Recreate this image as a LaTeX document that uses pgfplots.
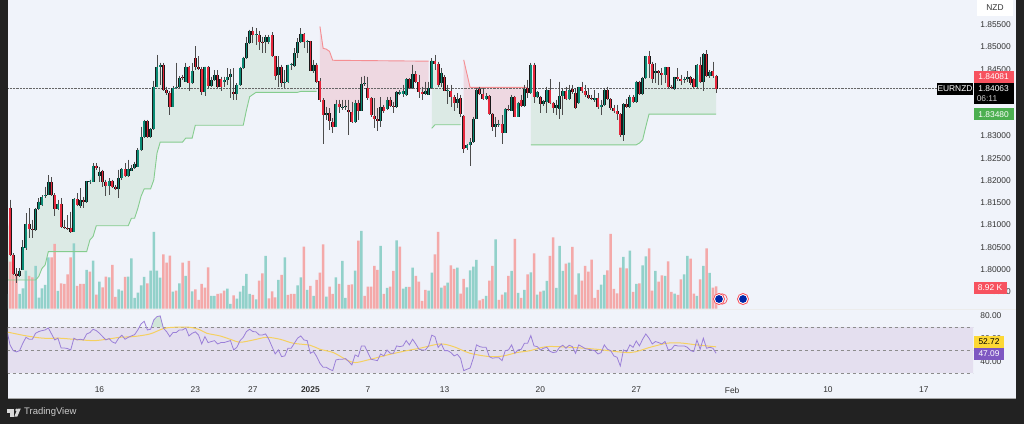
\documentclass[border=0pt]{standalone}
\usepackage{fontspec}
\setmainfont{Liberation Sans}
\usepackage{pgfplots}
\usepackage{pgfplotstable}
\pgfplotsset{compat=1.18}
\usepgfplotslibrary{fillbetween}
\pgfdeclarelayer{pre main}
\pgfsetlayers{pre main,main}
\definecolor{panel}{HTML}{F0F3FA}
\definecolor{dark}{HTML}{222222}
\definecolor{cup}{HTML}{0B8A74}
\definecolor{cdn}{HTML}{E5283C}
\definecolor{vup}{HTML}{92D1CA}
\definecolor{vdn}{HTML}{F4A9A9}
\definecolor{stg}{HTML}{85CC8E}
\definecolor{str}{HTML}{F58E92}
\definecolor{tagr}{HTML}{F7525F}
\definecolor{tagg}{HTML}{4CAF50}
\definecolor{tagy}{HTML}{FDD835}
\definecolor{tagp}{HTML}{7E57C2}
\definecolor{rsiband}{HTML}{E4DFEF}
\definecolor{rsil}{HTML}{9B80D8}
\definecolor{rsim}{HTML}{F5D060}
\definecolor{ticktxt}{HTML}{333333}
\pgfplotstableread{
x o h l c
-1 1.8092 1.8156 1.8091 1.8139
0 1.8139 1.8156 1.8029 1.8032
1 1.8032 1.8036 1.7987 1.7990
2 1.7990 1.8002 1.7970 1.7984
3 1.7985 1.8002 1.7982 1.7997
4 1.7999 1.8066 1.7999 1.8050
5 1.8049 1.8126 1.8044 1.8102
6 1.8102 1.8137 1.8070 1.8090
7 1.8090 1.8111 1.8070 1.8089
8 1.8089 1.8137 1.8087 1.8136
9 1.8135 1.8160 1.8134 1.8152
10 1.8145 1.8167 1.8143 1.8162
11 1.8164 1.8186 1.8161 1.8167
12 1.8167 1.8212 1.8167 1.8196
13 1.8196 1.8207 1.8166 1.8167
14 1.8167 1.8171 1.8119 1.8136
15 1.8136 1.8156 1.8134 1.8147
16 1.8147 1.8160 1.8092 1.8095
17 1.8095 1.8111 1.8090 1.8092
18 1.8092 1.8122 1.8089 1.8090
19 1.8092 1.8130 1.8081 1.8085
20 1.8085 1.8160 1.8083 1.8158
21 1.8158 1.8171 1.8143 1.8145
22 1.8143 1.8182 1.8139 1.8156
23 1.8156 1.8163 1.8137 1.8151
24 1.8151 1.8199 1.8150 1.8198
25 1.8198 1.8202 1.8193 1.8199
26 1.8197 1.8239 1.8196 1.8233
27 1.8233 1.8239 1.8224 1.8227
28 1.8211 1.8231 1.8197 1.8219
29 1.8220 1.8224 1.8186 1.8197
30 1.8197 1.8202 1.8164 1.8188
31 1.8188 1.8205 1.8167 1.8199
32 1.8199 1.8202 1.8182 1.8186
33 1.8186 1.8190 1.8179 1.8180
34 1.8180 1.8224 1.8160 1.8205
35 1.8205 1.8227 1.8202 1.8225
36 1.8225 1.8239 1.8207 1.8209
37 1.8209 1.8246 1.8207 1.8225
38 1.8222 1.8235 1.8220 1.8227
39 1.8227 1.8242 1.8226 1.8237
40 1.8231 1.8272 1.8229 1.8269
41 1.8269 1.8321 1.8267 1.8297
42 1.8297 1.8336 1.8295 1.8333
43 1.8333 1.8336 1.8295 1.8297
44 1.8297 1.8317 1.8295 1.8315
45 1.8315 1.8424 1.8313 1.8411
46 1.8411 1.8482 1.8410 1.8455
47 1.8455 1.8465 1.8415 1.8460
48 1.8460 1.8464 1.8402 1.8404
49 1.8404 1.8411 1.8392 1.8396
50 1.8396 1.8400 1.8347 1.8365
51 1.8366 1.8412 1.8365 1.8407
52 1.8407 1.8464 1.8406 1.8411
53 1.8411 1.8435 1.8407 1.8430
54 1.8432 1.8437 1.8426 1.8430
55 1.8422 1.8464 1.8421 1.8456
56 1.8456 1.8457 1.8400 1.8419
57 1.8419 1.8464 1.8417 1.8445
58 1.8475 1.8501 1.8449 1.8454
59 1.8454 1.8479 1.8449 1.8450
60 1.8450 1.8456 1.8392 1.8398
61 1.8398 1.8456 1.8390 1.8455
62 1.8455 1.8457 1.8407 1.8412
63 1.8412 1.8433 1.8411 1.8426
64 1.8426 1.8448 1.8424 1.8437
65 1.8437 1.8448 1.8407 1.8411
66 1.8427 1.8433 1.8400 1.8411
67 1.8422 1.8433 1.8411 1.8426
68 1.8426 1.8452 1.8415 1.8432
69 1.8432 1.8450 1.8385 1.8440
70 1.8398 1.8452 1.8381 1.8394
71 1.8394 1.8418 1.8381 1.8415
72 1.8415 1.8456 1.8413 1.8452
73 1.8452 1.8478 1.8451 1.8475
74 1.8475 1.8523 1.8473 1.8509
75 1.8509 1.8539 1.8507 1.8535
76 1.8535 1.8545 1.8509 1.8527
77 1.8526 1.8542 1.8505 1.8529
78 1.8527 1.8535 1.8494 1.8512
79 1.8512 1.8523 1.8486 1.8511
80 1.8511 1.8527 1.8486 1.8522
81 1.8511 1.8527 1.8507 1.8522
82 1.8526 1.8533 1.8477 1.8479
83 1.8479 1.8480 1.8426 1.8434
84 1.8437 1.8479 1.8411 1.8456
85 1.8456 1.8460 1.8411 1.8419
86 1.8419 1.8448 1.8407 1.8421
87 1.8421 1.8460 1.8419 1.8460
88 1.8460 1.8464 1.8448 1.8461
89 1.8457 1.8497 1.8456 1.8486
90 1.8486 1.8520 1.8475 1.8510
91 1.8510 1.8542 1.8508 1.8530
92 1.8530 1.8531 1.8497 1.8510
93 1.8510 1.8516 1.8486 1.8513
94 1.8513 1.8514 1.8445 1.8447
95 1.8447 1.8471 1.8441 1.8460
96 1.8460 1.8464 1.8420 1.8422
97 1.8424 1.8430 1.8377 1.8381
98 1.8381 1.8385 1.8281 1.8346
99 1.8346 1.8365 1.8336 1.8351
100 1.8351 1.8362 1.8313 1.8334
101 1.8332 1.8340 1.8306 1.8321
102 1.8321 1.8381 1.8319 1.8372
103 1.8372 1.8381 1.8352 1.8365
104 1.8365 1.8381 1.8358 1.8366
105 1.8366 1.8381 1.8358 1.8368
106 1.8358 1.8381 1.8302 1.8353
107 1.8353 1.8377 1.8328 1.8331
108 1.8331 1.8381 1.8328 1.8374
109 1.8374 1.8381 1.8336 1.8357
110 1.8357 1.8433 1.8357 1.8416
111 1.8416 1.8435 1.8412 1.8418
112 1.8407 1.8433 1.8381 1.8385
113 1.8385 1.8387 1.8343 1.8346
114 1.8345 1.8385 1.8317 1.8339
115 1.8339 1.8362 1.8311 1.8334
116 1.8334 1.8387 1.8321 1.8365
117 1.8365 1.8370 1.8351 1.8357
118 1.8360 1.8388 1.8358 1.8381
119 1.8381 1.8388 1.8365 1.8368
120 1.8368 1.8377 1.8351 1.8364
121 1.8364 1.8400 1.8362 1.8398
122 1.8394 1.8403 1.8392 1.8398
123 1.8394 1.8415 1.8388 1.8400
124 1.8391 1.8430 1.8390 1.8427
125 1.8427 1.8430 1.8405 1.8407
126 1.8407 1.8460 1.8406 1.8439
127 1.8439 1.8445 1.8418 1.8421
128 1.8421 1.8437 1.8385 1.8398
129 1.8398 1.8411 1.8381 1.8394
130 1.8394 1.8422 1.8392 1.8402
131 1.8392 1.8422 1.8391 1.8407
132 1.8407 1.8475 1.8405 1.8469
133 1.8469 1.8482 1.8448 1.8461
134 1.8461 1.8467 1.8411 1.8415
135 1.8418 1.8452 1.8411 1.8442
136 1.8432 1.8437 1.8400 1.8401
137 1.8401 1.8415 1.8372 1.8403
138 1.8402 1.8415 1.8365 1.8387
139 1.8387 1.8392 1.8357 1.8374
140 1.8374 1.8396 1.8362 1.8383
141 1.8385 1.8392 1.8343 1.8350
142 1.8345 1.8347 1.8262 1.8271
143 1.8272 1.8282 1.8269 1.8280
144 1.8280 1.8295 1.8232 1.8286
145 1.8286 1.8343 1.8284 1.8339
146 1.8339 1.8407 1.8337 1.8404
147 1.8406 1.8411 1.8392 1.8394
148 1.8394 1.8407 1.8381 1.8384
149 1.8384 1.8396 1.8381 1.8390
150 1.8390 1.8392 1.8347 1.8350
151 1.8350 1.8351 1.8310 1.8321
152 1.8321 1.8343 1.8298 1.8327
153 1.8326 1.8336 1.8321 1.8327
154 1.8327 1.8347 1.8281 1.8307
155 1.8307 1.8362 1.8306 1.8360
156 1.8360 1.8370 1.8355 1.8358
157 1.8357 1.8392 1.8355 1.8388
158 1.8388 1.8390 1.8342 1.8343
159 1.8343 1.8377 1.8342 1.8374
160 1.8381 1.8392 1.8364 1.8368
161 1.8368 1.8415 1.8366 1.8406
162 1.8407 1.8426 1.8385 1.8396
163 1.8396 1.8464 1.8394 1.8460
164 1.8460 1.8464 1.8373 1.8387
165 1.8387 1.8400 1.8385 1.8398
166 1.8387 1.8390 1.8351 1.8371
167 1.8371 1.8381 1.8367 1.8379
168 1.8377 1.8411 1.8351 1.8404
169 1.8404 1.8427 1.8372 1.8374
170 1.8374 1.8377 1.8351 1.8362
171 1.8362 1.8381 1.8347 1.8370
172 1.8360 1.8422 1.8337 1.8390
173 1.8390 1.8407 1.8347 1.8401
174 1.8401 1.8411 1.8381 1.8383
175 1.8383 1.8415 1.8381 1.8404
176 1.8406 1.8415 1.8394 1.8398
177 1.8396 1.8407 1.8360 1.8362
178 1.8373 1.8411 1.8372 1.8409
179 1.8409 1.8422 1.8397 1.8400
180 1.8400 1.8415 1.8388 1.8391
181 1.8391 1.8407 1.8382 1.8385
182 1.8385 1.8392 1.8381 1.8382
183 1.8381 1.8403 1.8377 1.8385
184 1.8385 1.8396 1.8360 1.8365
185 1.8365 1.8381 1.8347 1.8370
186 1.8370 1.8407 1.8367 1.8404
187 1.8404 1.8411 1.8381 1.8382
188 1.8382 1.8385 1.8358 1.8362
189 1.8362 1.8370 1.8351 1.8355
190 1.8355 1.8370 1.8336 1.8349
191 1.8349 1.8351 1.8297 1.8302
192 1.8302 1.8373 1.8289 1.8371
193 1.8371 1.8383 1.8362 1.8365
194 1.8365 1.8392 1.8362 1.8388
195 1.8388 1.8392 1.8375 1.8377
196 1.8377 1.8424 1.8375 1.8422
197 1.8422 1.8424 1.8392 1.8394
198 1.8394 1.8433 1.8393 1.8430
199 1.8430 1.8480 1.8428 1.8479
200 1.8479 1.8491 1.8430 1.8462
201 1.8462 1.8467 1.8418 1.8428
202 1.8441 1.8463 1.8418 1.8447
203 1.8447 1.8448 1.8415 1.8441
204 1.8441 1.8452 1.8415 1.8437
205 1.8437 1.8456 1.8418 1.8454
206 1.8454 1.8455 1.8407 1.8411
207 1.8411 1.8415 1.8405 1.8409
208 1.8406 1.8433 1.8403 1.8432
209 1.8432 1.8452 1.8424 1.8427
210 1.8427 1.8437 1.8415 1.8424
211 1.8426 1.8433 1.8418 1.8428
212 1.8427 1.8445 1.8422 1.8432
213 1.8432 1.8435 1.8415 1.8418
214 1.8427 1.8430 1.8407 1.8409
215 1.8409 1.8461 1.8407 1.8460
216 1.8460 1.8478 1.8418 1.8421
217 1.8421 1.8486 1.8400 1.8484
218 1.8484 1.8493 1.8432 1.8434
219 1.8434 1.8448 1.8430 1.8443
220 1.8446 1.8467 1.8430 1.8435
221 1.8435 1.8437 1.8397 1.8406
}\candles
\pgfplotstableread{
x v d
-1 5.9 1
0 18.8 0
1 21.5 0
2 14.1 0
3 5.9 1
4 8.1 1
5 15.2 1
6 13.1 0
7 12.5 0
8 17.1 1
9 4.4 1
10 8.1 1
11 9.5 1
12 20.5 1
13 20.5 0
14 25.9 0
15 7.1 1
16 10.1 0
17 9.9 0
18 13.7 0
19 20.5 0
20 26.1 1
21 9.1 0
22 9.9 0
23 9.9 0
24 15.5 1
25 14.8 0
26 19.2 1
27 5.6 0
28 10.8 1
29 8.5 0
30 12.8 0
31 12.5 1
32 17.5 0
33 4.7 0
34 7.7 1
35 7.2 1
36 12.7 0
37 12.8 1
38 20.1 1
39 4.3 1
40 6.4 1
41 9.3 1
42 12.7 1
43 10.1 0
44 15.2 1
45 30.7 1
46 15.2 1
47 12.4 1
48 21.7 0
49 18.4 0
50 21.2 0
51 6.8 1
52 7.2 0
53 10.1 1
54 18.4 0
55 13.1 1
56 19.1 0
57 6.9 1
58 7.7 0
59 3.5 0
60 9.9 0
61 8.4 0
62 16.5 0
63 5.1 1
64 5.1 1
65 5.9 0
66 6.1 0
67 7.2 0
68 8.0 1
69 1.9 1
70 5.3 0
71 4.0 1
72 6.8 1
73 9.1 1
74 13.9 1
75 5.9 1
76 5.5 0
77 3.7 1
78 11.2 0
79 14.1 0
80 21.1 1
81 4.1 0
82 6.9 0
83 4.5 0
84 11.5 1
85 13.5 0
86 20.5 1
87 5.5 0
88 5.9 0
89 5.9 0
90 9.3 1
91 12.5 1
92 24.8 0
93 7.5 1
94 9.1 0
95 5.1 1
96 11.5 0
97 14.4 0
98 25.7 0
99 4.8 1
100 8.8 0
101 5.9 0
102 12.5 1
103 9.9 0
104 19.1 1
105 4.3 1
106 9.5 0
107 9.7 0
108 15.2 1
109 27.2 0
110 31.1 1
111 5.1 0
112 8.8 0
113 8.8 0
114 17.1 0
115 15.5 0
116 25.1 1
117 5.9 0
118 8.3 1
119 8.8 0
120 15.1 0
121 27.3 1
122 24.8 0
123 8.0 1
124 8.7 1
125 8.7 0
126 16.4 1
127 13.1 0
128 10.8 0
129 3.1 0
130 7.5 0
131 7.2 1
132 14.4 1
133 21.7 0
134 30.7 0
135 8.4 1
136 9.2 0
137 10.4 1
138 17.3 0
139 15.9 0
140 16.4 1
141 6.0 0
142 11.9 0
143 8.5 1
144 15.3 1
145 16.8 1
146 19.5 1
147 3.3 0
148 3.9 0
149 5.1 1
150 11.2 0
151 17.1 0
152 27.7 1
153 3.5 0
154 5.6 0
155 6.5 1
156 13.1 0
157 15.1 1
158 27.9 0
159 6.3 1
160 4.3 0
161 7.5 1
162 13.7 0
163 14.5 1
164 22.1 0
165 5.6 1
166 6.8 0
167 7.2 1
168 11.1 1
169 21.1 0
170 28.5 0
171 8.3 1
172 25.1 1
173 15.1 1
174 18.0 0
175 18.4 1
176 24.7 0
177 5.6 0
178 14.1 1
179 11.2 0
180 17.1 0
181 14.8 0
182 19.6 0
183 4.3 0
184 7.5 0
185 9.6 1
186 13.5 1
187 15.3 0
188 29.9 0
189 7.9 0
190 6.1 0
191 16.4 0
192 20.7 1
193 16.1 0
194 23.2 1
195 6.7 0
196 9.9 1
197 10.1 0
198 17.3 1
199 20.9 1
200 24.1 0
201 7.2 0
202 15.1 1
203 10.8 0
204 13.3 0
205 13.1 1
206 18.9 0
207 6.7 0
208 6.0 1
209 5.5 0
210 11.7 0
211 13.7 1
212 21.1 1
213 20.0 0
214 6.0 0
215 5.1 1
216 11.7 0
217 17.1 1
218 24.1 0
219 14.3 1
220 8.4 0
221 8.92 0
}\volume
\pgfplotstableread{
x v
-1 67.4
0 54.4
1 49.4
2 48.3
3 49.4
4 55.8
5 61.0
6 59.3
7 59.3
8 64.5
9 66.0
10 66.8
11 67.4
12 69.1
13 63.9
14 58.7
15 60.2
16 51.7
17 51.7
18 51.2
19 50.0
20 60.2
21 58.7
22 59.3
23 58.7
24 63.9
25 65.1
26 68.0
27 66.8
28 64.5
29 61.6
30 58.7
31 59.9
32 57.0
33 55.8
34 60.2
35 62.8
36 59.3
37 61.0
38 62.2
39 63.3
40 67.4
41 72.6
42 74.9
43 67.4
44 68.0
45 76.1
46 79.0
47 79.6
48 68.9
49 66.0
50 61.6
51 65.1
52 65.1
53 67.4
54 67.4
55 69.1
56 62.2
57 64.5
58 65.7
59 63.0
60 55.2
61 61.6
62 56.4
63 57.3
64 58.1
65 55.2
66 56.4
67 56.4
68 57.3
69 58.1
70 50.0
71 52.3
72 58.1
73 61.0
74 66.0
75 68.0
76 66.0
77 65.7
78 63.0
79 63.0
80 63.9
81 59.3
82 52.9
83 46.5
84 50.0
85 44.2
86 44.8
87 51.5
88 51.5
89 55.8
90 60.2
91 62.2
92 58.7
93 58.1
94 47.1
95 48.6
96 44.2
97 38.4
98 34.9
99 34.9
100 33.2
101 32.0
102 41.3
103 41.9
104 41.9
105 42.5
106 39.9
107 37.0
108 45.7
109 44.2
110 53.5
111 53.5
112 47.7
113 41.9
114 41.3
115 40.7
116 46.5
117 44.8
118 50.0
119 47.1
120 47.1
121 53.5
122 52.9
123 53.5
124 58.1
125 54.4
126 59.3
127 55.2
128 50.6
129 50.0
130 50.0
131 53.5
132 62.8
133 61.6
134 52.3
135 55.2
136 49.4
137 49.4
138 47.7
139 44.8
140 46.2
141 42.8
142 32.0
143 33.2
144 34.3
145 42.8
146 54.4
147 52.9
148 52.3
149 52.3
150 44.2
151 42.8
152 43.3
153 43.3
154 40.7
155 49.4
156 50.0
157 54.4
158 47.1
159 50.0
160 50.6
161 55.8
162 55.8
163 62.5
164 53.5
165 52.9
166 50.0
167 51.5
168 52.3
169 48.8
170 47.7
171 48.3
172 52.3
173 54.1
174 51.5
175 54.1
176 52.9
177 47.1
178 54.4
179 52.9
180 51.2
181 50.6
182 50.0
183 49.4
184 46.5
185 47.7
186 54.4
187 50.6
188 49.4
189 44.8
190 43.6
191 36.1
192 50.0
193 48.6
194 54.4
195 52.3
196 57.8
197 53.5
198 59.3
199 63.9
200 60.2
201 55.2
202 57.3
203 56.4
204 55.2
205 57.3
206 50.0
207 50.6
208 54.1
209 53.5
210 53.5
211 53.5
212 52.3
213 49.4
214 48.6
215 58.7
216 50.6
217 60.2
218 51.5
219 52.3
220 51.5
221 47.09
}\rsi
\pgfplotsset{
  chartaxis/.style={
    scale only axis, anchor=south west, width=965pt,
    xmin=-0.63, xmax=301.4,
    axis line style={draw=none}, tick style={draw=none},
    major tick length=0pt, clip=true,
    tick label style={font=\fontsize{8.4}{9}\selectfont, text=ticktxt},
  },
  cdl/.style={only marks, mark size=0pt, mark options={draw=none,fill=none}},
}
\newcommand\tagbox[7]{%
  \fill[#5] ({#1pt},{(424-#2)*1pt}) rectangle ({#3pt},{(424-#4)*1pt});
  \node[text=#6,font=\fontsize{8.4}{9}\selectfont,inner sep=0pt,anchor=center] at ({(#1+#3)/2*1pt},{(424-(#2+#4)/2)*1pt}) {#7};}
\newcommand\eventicon[1]{%
  \fill[white] ({#1pt},125pt) circle (5.8pt);
  \draw[tagr,line width=0.9pt] ({#1pt},125pt) circle (5.5pt);
  \fill[white] ({#1pt},125pt) circle (4.6pt);
  \fill[blue!60!black!85!cyan] ({#1pt},125pt) circle (3.9pt);
}
\begin{document}
\begin{tikzpicture}
\begin{pgfonlayer}{pre main}
\fill[dark] (0pt,0pt) rectangle (1024pt,424pt);
\fill[panel] (8pt,26pt) rectangle (1016pt,424pt);
\draw[gray!70,line width=0.8pt] (8pt,26pt) -- (1016pt,26pt);
\draw[gray!15,line width=0.6pt] (8pt,115pt) -- (1016pt,115pt);
\end{pgfonlayer}
% volume pane
\begin{axis}[chartaxis, at={(8pt,115.3pt)}, height=100pt, ymin=0, ymax=40, xtick=\empty, ytick=\empty, hide axis]
\addplot[ybar, bar width=2.5pt, bar shift=0pt, fill=vup, draw=none, restrict expr to domain={\thisrow{d}}{0.5:1.5}] table[x=x,y=v] {\volume};
\addplot[ybar, bar width=2.5pt, bar shift=0pt, fill=vdn, draw=none, restrict expr to domain={\thisrow{d}}{-0.5:0.5}] table[x=x,y=v] {\volume};
\end{axis}
% price pane
\begin{axis}[chartaxis, at={(8pt,115pt)}, height=309pt,
  ymin=1.79109, ymax=1.86055, xtick=\empty,
  ytick={1.795,1.80,1.805,1.81,1.815,1.82,1.825,1.83,1.835,1.84,1.845,1.85,1.855},
  yticklabel pos=right, scaled y ticks=false,
  yticklabel style={xshift=3.8pt, /pgf/number format/.cd, fixed, fixed zerofill, precision=5, assume math mode=true}]
\addplot[draw=none, name path=m1, restrict x to domain=-1:96] table[x=x,y expr=(\thisrow{o}+\thisrow{c})/2] {\candles};
\addplot[draw=none, name path=m2, restrict x to domain=97:131] table[x=x,y expr=(\thisrow{o}+\thisrow{c})/2] {\candles};
\addplot[draw=none, name path=m3, restrict x to domain=132:141] table[x=x,y expr=(\thisrow{o}+\thisrow{c})/2] {\candles};
\addplot[draw=none, name path=m4, restrict x to domain=142:162] table[x=x,y expr=(\thisrow{o}+\thisrow{c})/2] {\candles};
\addplot[draw=none, name path=m5, restrict x to domain=163:221] table[x=x,y expr=(\thisrow{o}+\thisrow{c})/2] {\candles};
\addplot[stg, line width=0.9pt, name path=g1] coordinates {(-1,1.7976)(8,1.7976)(9,1.7984)(10,1.8002)(11,1.8010)(12,1.8040)(24,1.8040)(25,1.8066)(26,1.8074)(27,1.8098)(37,1.8098)(38,1.8115)(39,1.8115)(40,1.8137)(41,1.8164)(42,1.8181)(44,1.8181)(45,1.8201)(46,1.8261)(47,1.8286)(54,1.8286)(55,1.8295)(57,1.8295)(58,1.8324)(73,1.8324)(74,1.8358)(75,1.8388)(77,1.8398)(90,1.8398)(91,1.8400)(96,1.8400)};
\addplot[str, line width=0.9pt, name path=r1] coordinates {(97,1.8546)(98,1.8497)(99,1.8495)(100,1.8490)(101,1.8470)(131,1.8468)};
\addplot[stg, line width=0.9pt, name path=g2] coordinates {(132,1.8317)(133,1.8325)(141,1.8325)};
\addplot[str, line width=0.9pt, name path=r2] coordinates {(142,1.8471)(144,1.8409)(162,1.8409)};
\addplot[stg, line width=0.9pt, name path=g3] coordinates {(163,1.8280)(196,1.8280)(197,1.8284)(198,1.8291)(199,1.8321)(200,1.8349)(221,1.8349)};
\addplot[fill=tagg, fill opacity=0.12, draw=none] fill between[of=m1 and g1];
\addplot[fill=cdn, fill opacity=0.13, draw=none] fill between[of=m2 and r1];
\addplot[fill=tagg, fill opacity=0.12, draw=none] fill between[of=m3 and g2];
\addplot[fill=cdn, fill opacity=0.13, draw=none] fill between[of=m4 and r2];
\addplot[fill=tagg, fill opacity=0.12, draw=none] fill between[of=m5 and g3];
\addplot[black!60, densely dotted, line width=0.45pt] coordinates {(-1,1.84063)(302,1.84063)};
% wicks
\addplot[cdl, error bars/.cd, y dir=minus, y explicit, error mark=none,
  error bar style={color=black!70, line width=0.75pt}] table[x=x,y=h,y error expr=\thisrow{h}-\thisrow{l}] {\candles};
% bodies: black outline
\addplot[cdl, error bars/.cd, y dir=minus, y explicit, error mark=none,
  error bar style={color=black!90, line width=3pt}] table[x=x,y expr={max(\thisrow{o},\thisrow{c})},y error expr={abs(\thisrow{c}-\thisrow{o})}] {\candles};
\addplot[cdl, restrict expr to domain={\thisrow{c}-\thisrow{o}}{0:1}, error bars/.cd, y dir=minus, y explicit, error mark=none,
  error bar style={color=cup, line width=1.6pt}] table[x=x,y expr={\thisrow{c}},y error expr={\thisrow{c}-\thisrow{o}}] {\candles};
\addplot[cdl, restrict expr to domain={\thisrow{c}-\thisrow{o}}{-1:-0.00001}, error bars/.cd, y dir=minus, y explicit, error mark=none,
  error bar style={color=cdn, line width=1.6pt}] table[x=x,y expr={\thisrow{o}},y error expr={\thisrow{o}-\thisrow{c}}] {\candles};
\end{axis}
% RSI pane
\begin{axis}[chartaxis, at={(8pt,43pt)}, height=72pt,
  ymin=23, ymax=85.6,
  xtick={28,58,76,94,112,136,166,196,226,256,286},
  xticklabels={16,23,27,\textbf{2025},7,13,20,27,Feb,10,17},
  xticklabel style={yshift=-2.5pt},
  ytick={40,60,80}, yticklabel pos=right,
  yticklabel style={xshift=3.8pt, /pgf/number format/.cd, fixed, fixed zerofill, precision=2, assume math mode=true}]
\addplot[fill=rsiband, draw=none] coordinates {(-1,30)(302,30)(302,70)(-1,70)} -- cycle;
\addplot[black!45, dashed, line width=0.5pt] coordinates {(-1,70)(302,70)};
\addplot[black!45, dashed, line width=0.5pt] coordinates {(-1,50)(302,50)};
\addplot[black!45, dashed, line width=0.5pt] coordinates {(-1,30)(302,30)};
\addplot[fill=tagg, fill opacity=0.2, draw=none] coordinates {(44.5,70)(45,76.1)(46,79)(47,79.6)(48,70)} -- cycle;
\addplot[rsim, line width=1pt, smooth] coordinates {(-1,65.7)(1,64.5)(5.2,62.2)(10.4,60.2)(15.6,60.2)(19.8,59.3)(26.1,58.1)(30.3,59.3)(34.4,61)(38.6,61.6)(43.8,63.9)(48,68.6)(51.1,69.7)(56.3,69.7)(59.5,67.4)(61.6,64.5)(65.7,62.2)(68.9,59.3)(72,56.7)(76.2,58.7)(80.3,61)(84.5,59.3)(88.7,55.8)(93.9,54.1)(97,50.6)(101.2,47.7)(105.4,41.3)(108,39)(112,41.3)(118.9,46.2)(124.2,49.4)(128.3,51.5)(134.6,55.2)(138.8,52.9)(144,47.1)(150.2,44.2)(154.4,44.8)(158.6,47.7)(162.8,49.4)(168,52.9)(175.3,52.3)(183.6,50.6)(194,47.7)(200.3,52.3)(205.5,55.8)(209.7,56.1)(214.9,54.4)(221,52.72)};
\addplot[rsil, line width=0.8pt] table[x=x,y=v] {\rsi};
\end{axis}
% price-scale tags
\tagbox{977}{0}{1013}{16}{white}{ticktxt}{NZD}
\tagbox{973.7}{70.7}{1013.5}{82.8}{tagr}{white}{1.84081}
\fill[black] (973.7pt,341.2pt) rectangle (1013.5pt,320pt);
\node[text=white,font=\fontsize{8.4}{9}\selectfont,inner sep=0pt] at (993.6pt,335.2pt) {1.84063};
\node[text=white!80!black,font=\fontsize{8.4}{9}\selectfont,inner sep=0pt] at (987pt,325.5pt) {06:11};
\tagbox{937}{83}{973}{95}{black}{white}{EURNZD}
\tagbox{973.7}{108.3}{1013.5}{120.3}{tagg}{white}{1.83480}
\tagbox{973.7}{281.7}{1006.5}{293.5}{tagr}{white}{8.92 K}
\tagbox{973.7}{336}{1004.3}{347.8}{tagy}{black}{52.72}
\tagbox{973.7}{348}{1004.3}{360}{tagp}{white}{47.09}
% event markers
\draw[tagr,line width=0.7pt] (722pt,125pt) circle (5.3pt);
\eventicon{719}
\eventicon{743}
% footer
\fill[white!85!black] (7pt,15.5pt) rectangle (14pt,11pt);
\fill[white!85!black] (10pt,11.2pt) rectangle (13.5pt,7.3pt);
\fill[white!85!black] (16.6pt,14pt) circle (1.5pt);
\fill[white!85!black] (20.8pt,15.5pt) -- (17.3pt,7.3pt) -- (14.2pt,7.3pt) -- (17.7pt,15.5pt) -- cycle;
\node[text=white!80!black,font=\fontsize{9.5}{11}\selectfont,inner sep=0pt,anchor=west] at (24pt,12pt) {TradingView};
\end{tikzpicture}
\end{document}
